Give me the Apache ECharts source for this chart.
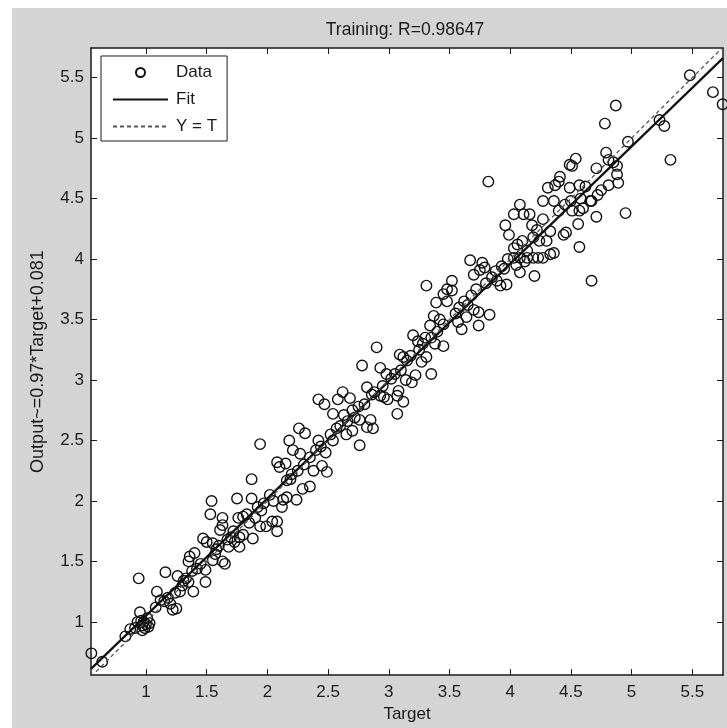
<!DOCTYPE html>
<html>
<head>
<meta charset="utf-8">
<script src="https://cdn.jsdelivr.net/npm/echarts@6/dist/echarts.min.js"></script>
<style>html,body{margin:0;padding:0;background:#fff}#c{width:727px;height:728px}</style>
</head>
<body>
<div id="c"></div>
<script>
// ---- data ----
const titleText = 'Training: R=0.98647';
const xName = 'Target';
const yName = 'Output~=0.97*Target+0.081';
const xTicks = [1, 1.5, 2, 2.5, 3, 3.5, 4, 4.5, 5, 5.5];
const yTicks = [1, 1.5, 2, 2.5, 3, 3.5, 4, 4.5, 5, 5.5];
const xRange = [0.547, 5.753];
const yRange = [0.56, 5.745];

const targets = [
  0.55,0.64,0.83,0.87,0.91,0.94,0.95,0.96,0.97,0.98,0.99,1.0,1.01,1.02,0.97,1.03,0.93,
  1.09,1.16,1.26,1.18,1.2,1.25,1.22,1.12,1.28,1.3,1.33,1.35,1.39,1.49,1.36,1.35,1.40,1.49,1.47,1.5,1.55,1.54,1.53,1.45,1.42,1.38,1.31,1.24,1.15,1.08,
  1.63,1.63,1.61,1.63,1.65,1.55,1.75,1.87,1.76,1.8,1.83,1.77,1.8,1.77,1.87,1.88,1.95,1.99,1.94,1.58,1.6,1.67,1.7,1.72,1.68,1.73,1.9,1.85,1.92,1.97,1.94,1.57,
  2.04,2.08,2.08,2.08,2.13,2.12,2.16,2.24,2.29,2.16,2.19,2.1,2.15,2.21,2.27,2.35,2.45,2.38,2.49,2.35,2.02,2.05,2.2,2.25,2.3,2.31,2.42,2.42,2.47,2.4,2.44,2.48,2.18,2.26,
  2.58,2.54,2.63,2.72,2.76,2.85,2.82,2.87,2.54,2.76,2.9,2.78,2.93,2.98,2.82,2.86,2.93,2.96,2.99,2.52,2.57,2.6,2.66,2.7,2.75,2.8,2.88,2.95,2.65,2.7,2.62,2.68,
  3.02,3.08,3.12,3.07,3.07,3.09,3.12,3.15,3.22,3.19,3.2,3.24,3.35,3.31,3.35,3.45,3.31,3.39,3.48,3.37,3.34,3.45,3.48,3.45,3.05,3.1,3.18,3.25,3.28,3.3,3.4,3.42,3.38,3.27,3.14,
  3.52,3.52,3.67,3.77,3.75,3.79,3.70,3.6,3.74,3.83,3.74,3.70,3.92,3.97,3.89,3.93,3.82,3.55,3.58,3.62,3.65,3.68,3.72,3.8,3.85,3.88,3.95,3.98,3.57,3.64,
  4.08,4.2,4.03,4.14,4.23,4.08,4.03,4.11,4.16,3.96,3.99,4.27,4.33,4.22,4.3,4.24,4.19,4.33,4.36,4.27,4.19,4.08,4.14,4.03,4.41,4.40,4.37,4.31,4.27,4.36,4.44,4.46,4.49,4.06,4.1,4.18,4.4,4.45,4.05,4.12,
  4.57,4.5,4.58,4.67,4.57,4.51,4.6,4.56,4.57,4.67,4.54,4.49,4.51,4.71,4.89,4.81,4.75,4.72,4.66,4.95,4.71,4.79,4.81,4.88,4.88,4.87,4.78,4.97,4.62,4.85,
  5.48,5.67,5.75,5.23,5.27,5.32
];
const outputs = [
  0.74,0.67,0.88,0.94,0.95,1.36,1.08,1.01,0.97,1.0,0.95,0.98,1.03,0.96,0.93,0.99,1.0,
  1.25,1.41,1.38,1.2,1.15,1.11,1.1,1.18,1.25,1.3,1.36,1.33,1.25,1.33,1.54,1.5,1.57,1.43,1.69,1.66,1.65,2.0,1.89,1.48,1.44,1.42,1.34,1.24,1.17,1.12,
  1.86,1.8,1.76,1.5,1.48,1.51,2.02,2.18,1.86,1.87,1.89,1.7,1.72,1.62,2.02,1.69,1.92,1.79,1.79,1.6,1.63,1.68,1.7,1.75,1.62,1.66,1.86,1.82,1.95,1.98,2.47,1.56,
  1.83,1.75,1.83,2.32,2.01,1.95,2.03,2.01,2.1,2.17,2.18,2.28,2.31,2.42,2.39,2.36,2.29,2.25,2.24,2.12,2.05,2.0,2.22,2.25,2.3,2.56,2.5,2.84,2.8,2.42,2.45,2.4,2.5,2.6,
  2.84,2.72,2.71,2.69,2.67,2.67,2.61,2.6,2.5,2.46,3.27,3.12,3.1,3.05,2.94,2.88,2.87,2.86,2.84,2.55,2.6,2.62,2.66,2.75,2.78,2.8,2.9,2.95,2.55,2.58,2.9,2.85,
  3.01,2.91,2.82,2.72,2.87,3.21,3.19,3.16,3.04,2.98,3.37,3.32,3.35,3.19,3.05,3.28,3.78,3.64,3.65,3.53,3.45,3.46,3.75,3.71,3.05,3.08,3.2,3.25,3.3,3.35,3.4,3.5,3.3,3.15,3.0,
  3.82,3.74,3.99,3.97,3.91,3.93,3.87,3.42,3.45,3.54,3.56,3.58,3.78,3.79,3.82,3.94,4.64,3.55,3.6,3.65,3.62,3.7,3.75,3.8,3.85,3.9,3.92,4.0,3.48,3.52,
  3.89,3.86,4.01,4.01,4.01,4.45,4.37,4.37,4.37,4.28,4.2,4.33,4.23,4.24,4.15,4.15,4.18,4.04,4.05,4.01,4.01,4.01,4.07,4.09,4.68,4.64,4.61,4.59,4.48,4.48,4.2,4.22,4.59,4.12,4.15,4.28,4.4,4.45,3.95,3.98,
  4.61,4.48,4.5,4.48,4.40,4.40,4.42,4.29,4.1,3.82,4.83,4.78,4.77,4.75,4.63,4.61,4.57,4.53,4.48,4.38,4.35,4.88,4.82,4.77,4.70,5.27,5.12,4.97,4.6,4.8,
  5.52,5.38,5.28,5.15,5.10,4.82
];
const fitLine = [[0.547, 0.6116], [5.753, 5.6614]];
const identityLine = [[0.547, 0.547], [5.753, 5.753]];
const legendNames = ['Data', 'Fit', 'Y = T'];

// ---- chart ----
const FONT = "'Liberation Sans', Arial, sans-serif";
const INK = '#1a1a1a';
const chart = echarts.init(document.getElementById('c'), null, {renderer: 'canvas'});
const points = targets.map((t, i) => [t, outputs[i]]);
const fmt = v => String(v);
const noDot = {color: 'rgba(0,0,0,0)', borderColor: 'rgba(0,0,0,0)', borderWidth: 0, opacity: 0};

const baseAxis = {
  type: 'value',
  axisLine: {show: true, lineStyle: {color: INK, width: 1.5}},
  splitLine: {show: false},
};

chart.setOption({
  backgroundColor: '#fff',
  animation: false,
  graphic: [{
    type: 'rect', z: -10, silent: true,
    shape: {x: 12, y: 8, width: 715, height: 720},
    style: {fill: '#d4d4d4'}
  }],
  title: {
    text: titleText, left: 400, top: 16, textAlign: 'center',
    textStyle: {fontFamily: FONT, fontSize: 17.5, fontWeight: 'normal', color: INK}
  },
  grid: {left: 91, right: 4, top: 48, bottom: 50, show: true, backgroundColor: '#fff', borderWidth: 0},
  legend: {
    orient: 'vertical', left: 101, top: 56,
    padding: [7, 10, 5, 11], itemGap: 8, itemWidth: 55, itemHeight: 9,
    borderColor: INK, borderWidth: 1, backgroundColor: '#fff',
    data: [
      {name: legendNames[0]},
      {name: legendNames[1], itemStyle: noDot},
      {name: legendNames[2], itemStyle: noDot}
    ],
    textStyle: {fontFamily: FONT, fontSize: 17, color: INK, padding: [0, 0, 0, 3], lineHeight: 19}
  },
  xAxis: [
    Object.assign({}, baseAxis, {
      position: 'bottom', min: xRange[0], max: xRange[1],
      name: xName, nameLocation: 'middle', nameGap: 30,
      nameTextStyle: {fontFamily: FONT, fontSize: 17, color: INK},
      axisTick: {show: true, inside: true, length: 6, lineStyle: {color: INK, width: 1}, customValues: xTicks},
      axisLabel: {show: true, margin: 9, fontFamily: FONT, fontSize: 17, color: INK, customValues: xTicks, formatter: fmt}
    }),
    Object.assign({}, baseAxis, {
      position: 'top', min: xRange[0], max: xRange[1],
      axisTick: {show: true, inside: true, length: 6, lineStyle: {color: INK, width: 1}, customValues: xTicks},
      axisLabel: {show: false}
    })
  ],
  yAxis: [
    Object.assign({}, baseAxis, {
      position: 'left', min: yRange[0], max: yRange[1],
      name: yName, nameLocation: 'middle', nameGap: 44,
      nameTextStyle: {fontFamily: FONT, fontSize: 18, color: INK},
      axisTick: {show: true, inside: true, length: 6, lineStyle: {color: INK, width: 1}, customValues: yTicks},
      axisLabel: {show: true, margin: 7, fontFamily: FONT, fontSize: 17, color: INK, customValues: yTicks, formatter: fmt}
    }),
    Object.assign({}, baseAxis, {
      position: 'right', min: yRange[0], max: yRange[1],
      axisTick: {show: true, inside: true, length: 6, lineStyle: {color: INK, width: 1}, customValues: yTicks},
      axisLabel: {show: false}
    })
  ],
  series: [
    {
      name: legendNames[0], type: 'scatter', xAxisIndex: 0, yAxisIndex: 0,
      data: points, symbol: 'circle', symbolSize: 10.5,
      itemStyle: {color: 'rgba(0,0,0,0)', borderColor: '#111', borderWidth: 1.4, opacity: 1},
      emphasis: {disabled: true}, z: 2
    },
    {
      name: legendNames[1], type: 'line', xAxisIndex: 0, yAxisIndex: 0,
      data: fitLine, symbol: 'none', showSymbol: false,
      lineStyle: {color: '#111', width: 2.2, type: 'solid'},
      itemStyle: noDot, z: 3
    },
    {
      name: legendNames[2], type: 'line', xAxisIndex: 0, yAxisIndex: 0,
      data: identityLine, symbol: 'none', showSymbol: false,
      lineStyle: {color: '#555', width: 1.3, type: [4, 3]},
      itemStyle: noDot, z: 3
    }
  ]
});
</script>
</body>
</html>
